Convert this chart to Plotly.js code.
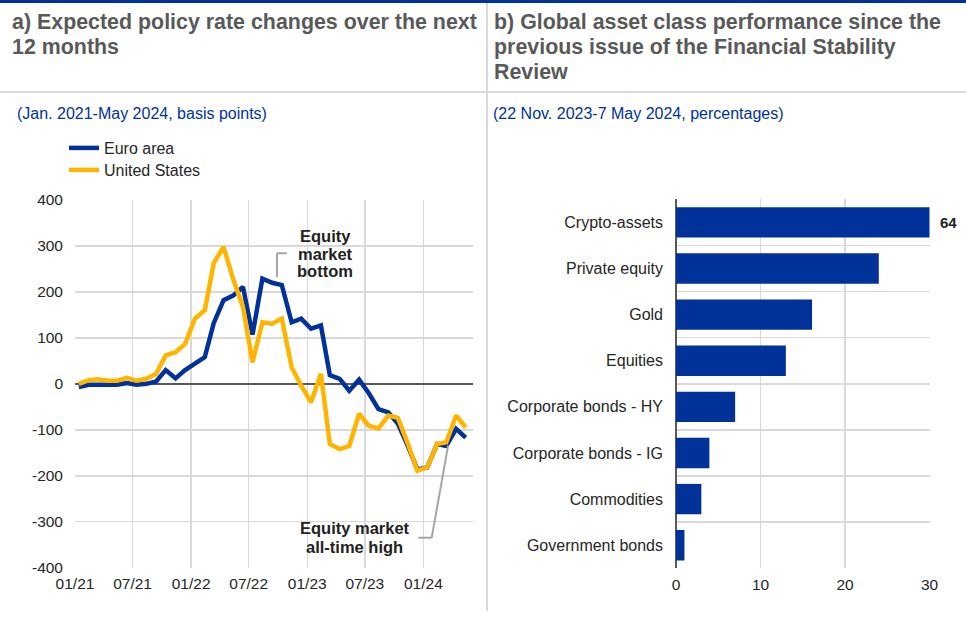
<!DOCTYPE html>
<html>
<head>
<meta charset="utf-8">
<script src="https://cdn.plot.ly/plotly-3.0.1.min.js"></script>
<style>
  body { margin: 0; background: #fff; }
  #chart { width: 966px; height: 617px; }
</style>
</head>
<body>
<div id="chart"></div>
<script>
// panel a: expected policy rate changes (basis points), monthly
let dates = [
  "2021-01-13","2021-02-13","2021-03-13","2021-04-13","2021-05-13","2021-06-13",
  "2021-07-13","2021-08-13","2021-09-13","2021-10-13","2021-11-13","2021-12-13",
  "2022-01-13","2022-02-13","2022-03-13","2022-04-13","2022-05-13","2022-06-13",
  "2022-07-13","2022-08-13","2022-09-13","2022-10-13","2022-11-13","2022-12-13",
  "2023-01-13","2023-02-13","2023-03-13","2023-04-13","2023-05-13","2023-06-13",
  "2023-07-13","2023-08-13","2023-09-13","2023-10-13","2023-11-13","2023-12-13",
  "2024-01-13","2024-02-13","2024-03-13","2024-04-13","2024-05-13"
];
let euroArea = [-7,-2,-2,-2,-2,2,-2,0,5,30,12,30,45,58,132,182,192,211,107,229,220,215,134,142,120,127,19,11,-15,9,-20,-55,-62,-87,-135,-186,-182,-131,-135,-98,-117];
let unitedStates = [0,8,10,7,7,13,7,11,22,62,69,87,142,160,262,298,228,167,47,134,131,142,36,-4,-40,22,-131,-142,-135,-65,-91,-97,-69,-74,-130,-189,-182,-131,-127,-69,-95];

// y tick labels with a plain hyphen, as in the original
let yTickVals = [-400,-300,-200,-100,0,100,200,300,400];
let yTickText = ["-400","-300","-200","-100","0","100","200","300","400"];

// panel b: asset class performance (percentages)
let assetClasses = ["Crypto-assets","Private equity","Gold","Equities","Corporate bonds - HY","Corporate bonds - IG","Commodities","Government bonds"];
let performance = [64, 24, 16.1, 13, 7, 3.95, 3, 1];

let blue = "#003299";
let yellow = "#ffb400";
let gridGrey = "#d9d9d9";
let textDark = "#262626";
let font = "Arial, 'Liberation Sans', sans-serif";

// pixel helpers for the page furniture
let px = v => v / 966;
let py = v => 1 - v / 617;

let trace1 = {
  x: dates, y: euroArea, name: "Euro area", type: "scatter", mode: "lines",
  line: { color: blue, width: 4.5 }, xaxis: "x", yaxis: "y", legend: "legend"
};
let trace2 = {
  x: dates, y: unitedStates, name: "United States", type: "scatter", mode: "lines",
  line: { color: yellow, width: 4.5 }, xaxis: "x", yaxis: "y", legend: "legend2"
};
let trace3 = {
  x: performance, y: assetClasses, type: "bar", orientation: "h",
  marker: { color: blue }, showlegend: false, textposition: "none",
  xaxis: "x2", yaxis: "y2", hoverinfo: "x+y"
};

let titleFont = { family: font, size: 21.4, color: "#595959", weight: "bold" };
let subFont = { family: font, size: 16, color: blue };
let noteFont = { family: font, size: 16.5, color: "#222", weight: "bold" };

function textLine(text, x, y, f, anchor) {
  return { text: text, xref: "paper", yref: "paper", x: px(x), y: py(y),
    xanchor: anchor || "left", yanchor: "middle", showarrow: false, font: f };
}
function note(text, x, y) {
  return { text: text, xref: "x", yref: "y", x: x, y: y, xanchor: "center",
    yanchor: "middle", showarrow: false, font: noteFont };
}

let annotations = [
  textLine("a) Expected policy rate changes over the next", 10, 22, titleFont),
  textLine("12 months", 10, 47, titleFont),
  textLine("b) Global asset class performance since the", 492, 22, titleFont),
  textLine("previous issue of the Financial Stability", 492, 47, titleFont),
  textLine("Review", 492, 72, titleFont),
  textLine("(Jan. 2021-May 2024, basis points)", 15, 114, subFont),
  textLine("(22 Nov. 2023-7 May 2024, percentages)", 491, 114, subFont),
  note("Equity", "2023-02-26", 321),
  note("market", "2023-02-26", 283),
  note("bottom", "2023-02-26", 246),
  note("Equity market", "2023-05-31", -314),
  note("all-time high", "2023-05-31", -354),
  { text: String(performance[0]), xref: "x2", yref: "y2", x: 30, y: assetClasses[0],
    xanchor: "left", yanchor: "middle", xshift: 8, showarrow: false,
    font: { family: font, size: 15, color: "#222", weight: "bold" } }
];

let leader = { color: "#a6a6a6", width: 2 };
let shapes = [
  // page furniture
  { type: "rect", xref: "paper", yref: "paper", x0: 0, x1: 1, y0: py(3), y1: 1, fillcolor: blue, line: { width: 0 } },
  { type: "line", xref: "paper", yref: "paper", x0: 0, x1: 1, y0: py(92), y1: py(92), line: { color: gridGrey, width: 2 } },
  { type: "line", xref: "paper", yref: "paper", x0: px(487), x1: px(487), y0: py(3), y1: py(611), line: { color: gridGrey, width: 2 } },
  // annotation leaders
  { type: "line", xref: "x", yref: "y", x0: "2022-10-29", x1: "2022-09-28", y0: 284, y1: 284, line: leader },
  { type: "line", xref: "x", yref: "y", x0: "2022-09-28", x1: "2022-09-28", y0: 284, y1: 232, line: leader },
  { type: "line", xref: "x", yref: "y", x0: "2023-12-16", x1: "2024-01-27", y0: -335, y1: -335, line: leader },
  { type: "line", xref: "x", yref: "y", x0: "2024-01-27", x1: "2024-03-19", y0: -335, y1: -134, line: leader }
];

let tickFont = { family: font, size: 15.5, color: textDark };
let legendFont = { family: font, size: 16, color: textDark };

let layout = {
  width: 966, height: 617,
  margin: { l: 0, r: 0, t: 0, b: 0 },
  paper_bgcolor: "#fff", plot_bgcolor: "#fff",
  font: { family: font, color: textDark },
  showlegend: true,
  legend: {
    x: px(64), y: py(131), xanchor: "left", yanchor: "top",
    font: legendFont, bgcolor: "rgba(0,0,0,0)"
  },
  legend2: {
    x: px(64), y: py(153), xanchor: "left", yanchor: "top",
    font: legendFont, bgcolor: "rgba(0,0,0,0)"
  },
  xaxis: {
    domain: [px(75), px(473)], type: "date",
    range: ["2021-01-01", "2024-06-05"],
    tick0: "2021-01-01", dtick: "M6", tickformat: "%m/%y",
    showgrid: true, gridcolor: gridGrey, gridwidth: 1.5,
    zeroline: false, showline: false, ticks: "",
    tickfont: tickFont, ticklabelstandoff: 5, anchor: "y"
  },
  yaxis: {
    domain: [py(567.7), py(200)], range: [-400, 400],
    tickmode: "array", tickvals: yTickVals, ticktext: yTickText,
    showgrid: true, gridcolor: gridGrey, gridwidth: 1.5,
    zeroline: true, zerolinecolor: "#595959", zerolinewidth: 2,
    showline: false, ticks: "", tickfont: tickFont, ticklabelstandoff: 11, anchor: "x"
  },
  xaxis2: {
    domain: [px(676), px(929.5)], range: [0, 30], dtick: 10,
    showgrid: true, gridcolor: gridGrey, gridwidth: 1.5,
    zeroline: true, zerolinecolor: "#595959", zerolinewidth: 2.5,
    showline: false, ticks: "", tickfont: tickFont, ticklabelstandoff: 5, anchor: "y2"
  },
  yaxis2: {
    domain: [py(568.3), py(199.3)], type: "category",
    autorange: "reversed", tickson: "boundaries",
    showgrid: true, gridcolor: gridGrey, gridwidth: 1.5,
    zeroline: false, showline: false, ticks: "",
    tickfont: { family: font, size: 16, color: textDark }, ticklabelstandoff: 12, anchor: "x2"
  },
  bargap: 0.34,
  annotations: annotations,
  shapes: shapes
};

Plotly.newPlot("chart", [trace1, trace2, trace3], layout, { displayModeBar: false, staticPlot: true });
</script>
</body>
</html>
